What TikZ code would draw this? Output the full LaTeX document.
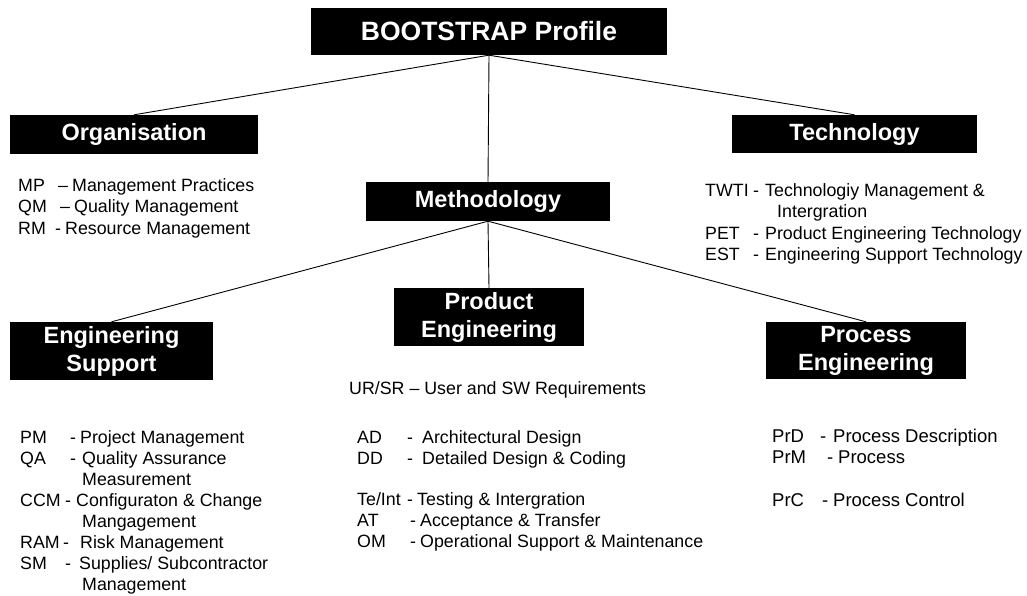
\documentclass[tikz,border=0pt]{standalone}
\usepackage{fontspec}
\setmainfont{Liberation Sans}
\newcommand\itm[5]{\makebox[#1pt][l]{#2}\makebox[#3pt][l]{#4}#5}
\begin{document}
\begin{tikzpicture}[x=1pt,y=-1pt,
  box/.style={fill=black,text=white,inner sep=0pt,align=center,
    font=\bfseries\fontsize{23.5}{28}\selectfont},
  conn/.style={line width=0.9pt,draw=black},
  lst/.style={anchor=base west,inner sep=0pt,font=\fontsize{17.8}{21.3}\selectfont}]
\useasboundingbox[fill=white] (0,0) rectangle (1027,596);
% boxes
\node[box,minimum width=356pt,minimum height=47pt,font=\bfseries\fontsize{26.5}{30}\selectfont] (boot) at (489,31.5) {BOOTSTRAP Profile};
\node[box,minimum width=248pt,minimum height=39pt] (org) at (134,134.5) {Organisation};
\node[box,minimum width=245pt,minimum height=38pt] (tech) at (854.5,134) {Technology};
\node[box,minimum width=244pt,minimum height=39pt] (meth) at (488,201.5) {Methodology};
\node[box,minimum width=203pt,minimum height=58pt] (es) at (111.5,351) {Engineering\\Support};
\node[box,minimum width=190pt,minimum height=58pt] (pe) at (489,317) {Product\\Engineering};
\node[box,minimum width=200pt,minimum height=57pt] (pre) at (866,350.5) {Process\\Engineering};
% connectors
\draw[conn] (boot.south) -- (org.north);
\draw[conn] (boot.south) -- (tech.north);
\draw[conn] (boot.south) -- (meth.north);
\draw[conn] (meth.south) -- (es.north);
\draw[conn] (meth.south) -- (pe.north);
\draw[conn] (meth.south) -- (pre.north);
% lists
\node[lst] (orgl) at (18,191.5) {\begin{tabular}[t]{@{}l@{}}
\itm{40}{MP}{14}{–}{Management Practices}\\
\itm{42}{QM}{14}{–}{Quality Management}\\
\itm{37}{RM}{10}{-}{Resource Management}\end{tabular}};
\node[lst] (techl) at (705,196.5) {\begin{tabular}[t]{@{}l@{}}
\itm{48}{TWTI}{12}{-}{Technologiy Management \&}\\
\hspace*{72pt}Intergration\\
\itm{48}{PET}{12}{-}{Product Engineering Technology}\\
\itm{48}{EST}{12}{-}{Engineering Support Technology}\end{tabular}};
\node[lst,font=\fontsize{17.8}{21}\selectfont] (esl) at (20,443.4) {\begin{tabular}[t]{@{}l@{}}
\itm{50}{PM}{10}{-}{Project Management}\\
\itm{50}{QA}{12}{-}{Quality Assurance}\\
\hspace*{62pt}Measurement\\
\itm{45}{CCM}{11}{-}{Configuraton \& Change}\\
\hspace*{62pt}Mangagement\\
\itm{43}{RAM}{17}{-}{Risk Management}\\
\itm{45}{SM}{14}{-}{Supplies/ Subcontractor}\\
\hspace*{62pt}Management\end{tabular}};
\node[lst] (urs) at (349,394.4) {UR/SR – User and SW Requirements};
\node[lst,font=\fontsize{17.8}{20.8}\selectfont] (pel) at (357,443.4) {\begin{tabular}[t]{@{}l@{}}
\itm{50}{AD}{15}{-}{Architectural Design}\\
\itm{50}{DD}{15}{-}{Detailed Design \& Coding}\\
\\
\itm{50}{Te/Int}{10}{-}{Testing \& Intergration}\\
\itm{53}{AT}{10}{-}{Acceptance \& Transfer}\\
\itm{53}{OM}{10}{-}{Operational Support \& Maintenance}\end{tabular}};
\node[lst,font=\fontsize{18.5}{21.3}\selectfont] (prel) at (772,442.4) {\begin{tabular}[t]{@{}l@{}}
\itm{48}{PrD}{13}{-}{Process Description}\\
\itm{55}{PrM}{11}{-}{Process}\\
\\
\itm{50}{PrC}{11}{-}{Process Control}\end{tabular}};
\end{tikzpicture}
\end{document}
